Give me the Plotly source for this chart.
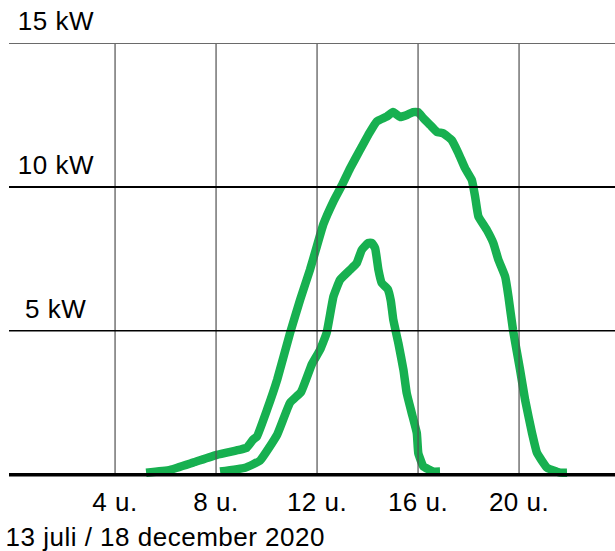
import plotly.graph_objects as go

# Summer day (13 juli) - hours, kW
summer_hours = [5.23, 6.18, 7.09, 8.03, 8.95, 9.22, 9.47, 9.62, 10.02, 10.42, 10.93, 11.33,
                11.72, 11.99, 12.25, 12.65, 12.98, 13.31, 13.70, 14.03, 14.36, 14.76, 15.01,
                15.29, 15.56, 15.80, 16.0, 16.20, 16.48, 16.75, 17.00, 17.33, 17.60, 17.86,
                18.13, 18.26, 18.39, 18.72, 18.98, 19.18, 19.45, 19.58, 19.76, 20.04, 20.24,
                20.51, 20.71, 21.11, 21.62, 21.90]
summer_kw = [0.07, 0.17, 0.42, 0.69, 0.87, 0.94, 1.22, 1.33, 2.26, 3.30, 4.92, 6.08,
             7.12, 7.93, 8.70, 9.50, 10.05, 10.65, 11.28, 11.81, 12.27, 12.44, 12.60,
             12.43, 12.50, 12.60, 12.60, 12.40, 12.15, 11.91, 11.86, 11.63, 11.17, 10.65,
             10.24, 9.66, 8.97, 8.51, 8.05, 7.47, 6.88, 6.19, 5.03, 3.65, 2.60,
             1.46, 0.76, 0.24, 0.07, 0.07]

# Winter day (18 december)
winter_hours = [8.16, 9.15, 9.74, 10.42, 10.93, 11.37, 11.80, 12.12, 12.38, 12.65, 12.91,
                13.31, 13.57, 13.77, 14.03, 14.17, 14.30, 14.43, 14.56, 14.80, 14.92, 15.02,
                15.22, 15.42, 15.55, 15.75, 15.95, 16.01, 16.21, 16.61, 16.87]
winter_kw = [0.11, 0.24, 0.49, 1.39, 2.50, 2.88, 3.85, 4.34, 4.93, 6.19, 6.77,
             7.12, 7.35, 7.81, 8.05, 8.05, 7.87, 7.12, 6.66, 6.45, 6.05, 5.38,
             4.57, 3.65, 2.84, 2.14, 1.45, 0.75, 0.29, 0.11, 0.11]

x_tick_vals = [4, 8, 12, 16, 20]
x_tick_text = ["4 u.", "8 u.", "12 u.", "16 u.", "20 u."]
y_levels = [15, 10, 5]
y_labels = ["15 kW", "10 kW", "5 kW"]
caption = "13 juli / 18 december 2020"

GREEN = "#17b050"
FONT = "Liberation Sans, Arial, sans-serif"
FS = 26

fig = go.Figure()
for xs, ys in [(summer_hours, summer_kw), (winter_hours, winter_kw)]:
    fig.add_trace(go.Scatter(x=xs, y=ys, mode="lines",
                             line=dict(color=GREEN, width=8.5, shape="spline", smoothing=0.35),
                             hoverinfo="skip", showlegend=False))

shapes = []
for v in x_tick_vals:
    shapes.append(dict(type="line", xref="x", yref="y", x0=v, x1=v, y0=0, y1=15.1,
                       line=dict(color="#505050", width=1.2), layer="above"))
line_styles = {15: ("#6a6a6a", 2), 10: ("#000000", 2), 5: ("#000000", 1.5), 0: ("#000000", 3.5)}
for lv in y_levels + [0]:
    c, w = line_styles[lv]
    shapes.append(dict(type="line", xref="paper", yref="y", x0=0, x1=1, y0=lv, y1=lv,
                       line=dict(color=c, width=w), layer="above"))

annotations = []
for lv, lab in zip(y_levels, y_labels):
    annotations.append(dict(x=1.65, y=lv, xref="x", yref="y", text=lab, showarrow=False,
                            xanchor="center", yanchor="middle", yshift=22,
                            font=dict(family=FONT, size=FS, color="#000000")))
annotations.append(dict(x=(10 - 9) / 606.0, y=(479.3 - 537) / 436.3, xref="paper", yref="paper",
                        text=caption, showarrow=False, xanchor="left", yanchor="middle",
                        font=dict(family=FONT, size=FS, color="#000000")))

fig.update_layout(
    width=615, height=551, autosize=False,
    margin=dict(l=9, r=0, t=43, b=72, pad=0),
    paper_bgcolor="white", plot_bgcolor="white",
    shapes=shapes, annotations=annotations,
    xaxis=dict(range=[-0.2, 23.8], showgrid=False, zeroline=False, showline=False,
               tickvals=x_tick_vals, ticktext=x_tick_text, ticks="",
               tickfont=dict(family=FONT, size=FS, color="#000000"), ticklabelstandoff=5,
               fixedrange=True),
    yaxis=dict(range=[-0.15, 15], showgrid=False, zeroline=False, showline=False,
               showticklabels=False, ticks="", fixedrange=True),
)

fig.write_html("out.html", config={"displayModeBar": False},
               post_script="document.body.style.margin='0';"
                           "document.querySelectorAll('.main-svg text').forEach(function(t){t.style.letterSpacing='0.5px';});")
